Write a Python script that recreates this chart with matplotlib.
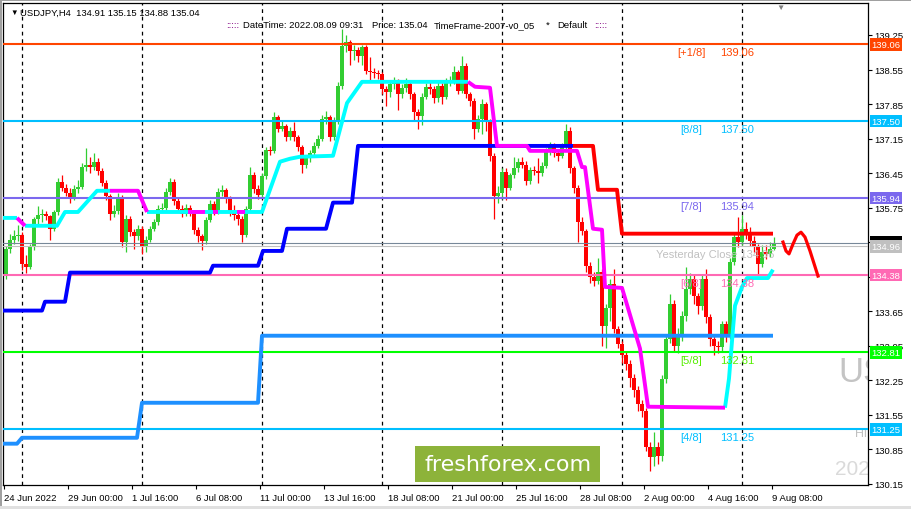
import numpy as np
import matplotlib.pyplot as plt
from matplotlib.patches import Rectangle
from matplotlib.transforms import blended_transform_factory

plt.rcParams['font.family'] = ['Liberation Sans', 'DejaVu Sans']

W, H = 911, 510

# USDJPY H4 bars, 24 Jun 2022 08:00 .. 9 Aug 2022 08:00 (open = previous close)
closes = [
    134.90, 135.10, 135.18, 135.20, 134.60, 134.55, 134.95, 135.52, 135.60, 135.62,
    135.58, 135.32, 135.66, 136.27, 136.15, 136.05, 135.95, 136.12, 136.17, 136.57,
    136.62, 136.58, 136.68, 136.50, 136.25, 135.98, 135.62, 135.68, 135.95, 135.05,
    135.52, 135.25, 135.17, 135.32, 134.95, 135.10, 135.32, 135.45, 135.72, 135.75,
    136.06, 136.27, 135.88, 135.72, 135.62, 135.75, 135.65, 135.30, 135.17, 135.08,
    135.50, 135.82, 135.68, 136.06, 136.10, 135.92, 135.65, 135.60, 135.52, 135.20,
    135.72, 136.40, 136.12, 136.00, 136.38, 136.92, 136.90, 137.58, 137.35, 137.40,
    137.18, 137.30, 137.18, 136.98, 136.62, 136.75, 136.85, 137.00, 137.15, 137.55,
    137.58, 137.18, 137.50, 138.22, 139.02, 139.10, 138.92, 138.95, 138.82, 139.00,
    138.52, 138.50, 138.48, 138.45, 138.15, 138.10, 138.25, 138.30, 138.05, 138.18,
    138.25, 138.05, 137.68, 137.60, 138.00, 138.20, 138.15, 137.98, 138.22, 138.00,
    138.30, 138.33, 138.50, 138.12, 138.62, 138.05, 137.92, 137.35, 137.55, 137.85,
    137.50, 136.80, 135.98, 136.05, 136.48, 136.15, 136.40, 136.55, 136.68, 136.62,
    136.28, 136.52, 136.50, 136.45, 136.60, 136.88, 137.00, 136.85, 136.80, 136.98,
    137.30, 136.55, 136.15, 135.45, 135.28, 134.57, 134.35, 134.25, 134.45, 133.35,
    133.72, 134.20, 133.28, 132.98, 132.75, 132.58, 132.30, 132.05, 131.76, 131.62,
    130.90, 130.68, 130.90, 130.72, 132.27, 133.08, 133.80, 132.95, 133.15, 133.55,
    134.10, 134.30, 133.95, 133.75, 134.30, 133.52, 133.08, 132.95, 132.92, 133.38,
    133.15, 134.65, 135.15, 135.05, 135.32, 135.22, 135.08, 134.97, 134.60, 134.85,
    134.80, 134.91, 135.04,
]
highs = [
    134.98, 135.22, 135.30, 135.40, 135.25, 134.78, 135.02, 135.56, 135.78, 135.72,
    135.68, 135.60, 135.70, 136.35, 136.40, 136.22, 136.15, 136.20, 136.30, 136.65,
    136.95, 136.78, 136.85, 136.75, 136.55, 136.30, 136.02, 135.80, 136.05, 136.00,
    135.60, 135.58, 135.32, 135.40, 135.38, 135.18, 135.38, 135.52, 135.80, 135.85,
    136.15, 136.35, 136.32, 135.95, 135.80, 135.82, 135.80, 135.70, 135.35, 135.22,
    135.55, 135.90, 135.88, 136.15, 136.20, 136.15, 135.98, 135.80, 135.68, 135.58,
    135.78, 136.58, 136.48, 136.20, 136.45, 136.98, 137.00, 137.68, 137.62, 137.50,
    137.45, 137.38, 137.48, 137.22, 137.02, 136.82, 136.92, 137.08, 137.22, 137.62,
    137.70, 137.62, 137.58, 138.30, 139.37, 139.25, 139.15, 139.05, 139.00, 139.05,
    139.05, 138.80, 138.58, 138.55, 138.50, 138.22, 138.32, 138.40, 138.35, 138.25,
    138.38, 138.30, 138.10, 137.75, 138.08, 138.28, 138.30, 138.22, 138.30, 138.28,
    138.38, 138.42, 138.62, 138.55, 138.82, 138.68, 138.10, 137.98, 137.62, 137.95,
    137.90, 137.55, 136.85, 136.18, 136.55, 136.55, 136.45, 136.78, 136.75, 136.78,
    136.70, 136.58, 136.60, 136.75, 136.68, 136.95, 137.08, 137.05, 136.92, 137.05,
    137.45, 137.38, 136.60, 136.20, 135.55, 135.32, 134.65, 134.45, 134.72, 134.50,
    133.80, 134.30, 134.50, 133.35, 133.05, 132.82, 132.65, 132.38, 132.12, 131.85,
    131.68, 131.00, 131.20, 131.00, 132.35, 133.15, 134.00, 133.88, 133.30, 133.65,
    134.55, 134.42, 134.38, 134.02, 134.40, 134.50, 133.60, 133.15, 133.05, 133.45,
    133.45, 134.72, 135.22, 135.55, 135.60, 135.45, 135.35, 135.18, 135.02, 135.00,
    135.00, 135.05, 135.15,
]
lows = [
    134.30, 134.82, 135.02, 135.08, 134.48, 134.42, 134.50, 134.88, 135.40, 135.45,
    135.50, 135.10, 135.28, 135.60, 136.08, 135.98, 135.85, 135.90, 136.05, 136.12,
    136.50, 136.45, 136.52, 136.40, 136.18, 135.90, 135.50, 135.55, 135.62, 134.95,
    134.85, 135.18, 134.90, 135.10, 134.80, 134.85, 135.05, 135.28, 135.40, 135.65,
    135.70, 136.00, 135.80, 135.65, 135.55, 135.58, 135.58, 135.22, 135.05, 134.88,
    135.02, 135.45, 135.60, 135.62, 135.98, 135.85, 135.58, 135.50, 135.40, 135.05,
    135.15, 135.68, 136.05, 135.92, 135.95, 136.32, 136.82, 136.85, 137.28, 137.30,
    137.10, 137.12, 137.10, 136.90, 136.45, 136.55, 136.68, 136.80, 136.95, 137.10,
    137.45, 137.10, 137.12, 137.45, 138.15, 138.90, 138.65, 138.75, 138.70, 138.65,
    138.45, 138.30, 138.38, 138.35, 138.05, 137.80, 138.00, 138.15, 137.72, 137.98,
    138.10, 137.95, 137.50, 137.35, 137.42, 137.95, 138.05, 137.88, 137.90, 137.85,
    137.95, 138.22, 138.25, 138.05, 138.08, 137.98, 137.80, 137.15, 137.28, 137.25,
    137.30, 136.70, 135.52, 135.85, 135.92, 135.90, 136.10, 136.35, 136.48, 136.55,
    136.20, 136.22, 136.40, 136.25, 136.38, 136.55, 136.82, 136.78, 136.70, 136.75,
    136.92, 136.45, 136.05, 135.05, 135.20, 134.45, 134.22, 134.15, 134.20, 132.95,
    132.90, 133.45, 133.20, 132.90, 132.60, 132.45, 132.10, 131.90, 131.62, 131.50,
    130.82, 130.40, 130.50, 130.55, 130.60, 132.20, 133.00, 132.85, 132.80, 133.05,
    133.45, 134.00, 133.80, 133.60, 133.68, 133.40, 132.95, 132.75, 132.80, 132.82,
    133.02, 133.08, 134.58, 134.95, 135.00, 135.12, 134.98, 134.85, 134.40, 134.55,
    134.70, 134.75, 134.88,
]
opens = [134.40] + closes[:-1]

date_pos = [0, 16, 32, 48, 64, 80, 96, 112, 128, 144, 160, 176, 192]
date_labels = ['24 Jun 2022', '29 Jun 00:00', '1 Jul 16:00', '6 Jul 08:00', '11 Jul 00:00',
               '13 Jul 16:00', '18 Jul 08:00', '21 Jul 00:00', '25 Jul 16:00', '28 Jul 08:00',
               '2 Aug 00:00', '4 Aug 16:00', '9 Aug 08:00']
week_starts = [4, 34, 64, 94, 124, 154, 184]
price_ticks = [139.25, 138.55, 137.85, 137.15, 136.45, 135.75, 135.05, 134.35,
               133.65, 132.95, 132.25, 131.55, 130.85, 130.15]
hidden_ticks = [135.05, 134.35]  # covered by price boxes on the scale

# Murrey math levels
levels = [139.06, 137.50, 135.94, 134.38, 132.81, 131.25]
level_names = ['[+1/8]', '[8/8]', '[7/8]', '[6/8]', '[5/8]', '[4/8]']
level_colors = ['#FF4500', '#00BFFF', '#7B68EE', '#FF69B4', '#00FF00', '#00BFFF']
level_text_colors = ['#FF4500', '#00BFFF', '#7B68EE', '#FF69B4', '#55EE00', '#00BFFF']
yesterday_close = 134.96
last_price = 135.04

# step indicators (bar index, price)
cyan_x = [-0.75, 2.75, np.nan, 4.75, 12.75, 14.75, 18, 22.75, 26, np.nan,
          35.25, 64, 68.5, 71, 73.5, 81.75, 85.25, 89, 115.5, np.nan,
          179.75, 180.75, 181.75, 182.25, 184, 185.25, 190.5, 191.75]
cyan_y = [135.54, 135.54, np.nan, 135.38, 135.38, 135.66, 135.66, 136.09, 136.09, np.nan,
          135.66, 135.66, 136.68, 136.74, 136.78, 136.80, 137.87, 138.30, 138.30, np.nan,
          131.69, 132.28, 133.29, 133.76, 134.14, 134.32, 134.32, 134.49]
magenta_x = [2.75, 4.75, np.nan, 26, 33, 35.25, np.nan, 45.5, 49.75, np.nan, 51.75, 53, np.nan,
             57.75, 59.75, np.nan, 115.5, 117.25, 121, 122.75, 130.25, 131, 142.75, 144,
             144.75, 146.75, 149, 149.75, 154, 158.5, 160.5, 179.75]
magenta_y = [135.54, 135.38, np.nan, 136.09, 136.09, 135.66, np.nan, 135.66, 135.66, np.nan,
             135.66, 135.66, np.nan, 135.66, 135.66, np.nan, 138.30, 138.20, 138.18, 137.00,
             137.00, 136.90, 136.90, 136.57, 136.57, 135.32, 135.30, 134.14, 134.12, 132.89,
             131.71, 131.69]
blue_x = [-0.75, 9, 9.75, 14.75, 16, 51, 51.75, 63, 64.25, 69, 70.25, 80, 81.75, 86.5, 88, 141.75]
blue_y = [133.66, 133.66, 133.84, 133.84, 134.43, 134.43, 134.57, 134.57, 134.87, 134.87,
          135.32, 135.32, 135.85, 135.85, 137.00, 137.00]
red_x = [141.75, 146.75, 148, 152.75, 154, 191.75]
red_y = [137.00, 137.00, 136.11, 136.11, 135.22, 135.22]
dodger_x = [-0.75, 2.75, 4, 32.75, 34, 63, 64, 191.75]
dodger_y = [130.96, 130.96, 131.08, 131.08, 131.79, 131.79, 133.15, 133.15]
forecast_x = [194.25, 195, 195.75, 196.75, 197.75, 198.75, 199.75, 201, 203]
forecast_y = [135.05, 134.87, 134.81, 135.01, 135.19, 135.25, 135.15, 134.87, 134.36]


def fx(x):
    return x / W


def fy(y):
    return 1 - y / H


fig = plt.figure(figsize=(W / 100, H / 100), dpi=100)
fig.patch.set_facecolor('white')
ax = fig.add_axes([3 / W, 24 / H, 865 / W, 482 / H])
ax.set_xlim(-0.75, 215.5)
ax.set_ylim(130.122, 139.899)
ax.set_facecolor('white')
for s in ax.spines.values():
    s.set_color('black')
    s.set_linewidth(0.9)

# week separators
for w in week_starts:
    ax.axvline(w, color='black', lw=0.9, ls=(0, (3, 3)), zorder=1)

# candles
for i in range(len(closes)):
    o, c = opens[i], closes[i]
    col = '#32CD32' if c >= o else '#FF0000'
    ax.vlines(i, lows[i], highs[i], color=col, lw=0.9, zorder=2)
    ax.bar(i, max(abs(c - o), 0.02), bottom=min(o, c), width=0.8, color=col,
           lw=0, zorder=2)

# horizontal levels
for lv, name, lc, tc in zip(levels, level_names, level_colors, level_text_colors):
    ax.axhline(lv, color=lc, lw=1.5, zorder=3)
    ax.annotate(name, (168.5 if name != '[+1/8]' else 167.75, lv), xytext=(0, -2),
                textcoords='offset points', va='top', ha='left', fontsize=8, color=tc, zorder=6)
    ax.annotate(f'{lv:.2f}', (178.5, lv), xytext=(0, -2), textcoords='offset points',
                va='top', ha='left', fontsize=8, color=tc, zorder=6)
ax.axhline(last_price, color='#778899', lw=0.8, zorder=3)
ax.axhline(yesterday_close, color='#C0C0C0', lw=0.8, zorder=3)
ax.annotate(f'Yesterday Close {yesterday_close:.2f}', (162.5, yesterday_close), xytext=(0, -2),
            textcoords='offset points', va='top', ha='left', fontsize=8, color='#C0C0C0', zorder=6)

# step indicators
ax.plot(dodger_x, dodger_y, color='#1E90FF', lw=2.8, zorder=4, solid_capstyle='butt')
ax.plot(blue_x, blue_y, color='#0000FF', lw=2.8, zorder=4, solid_capstyle='butt')
ax.plot(red_x, red_y, color='#FF0000', lw=2.8, zorder=4, solid_capstyle='butt')
ax.plot(cyan_x, cyan_y, color='#00FFFF', lw=2.8, zorder=4, solid_capstyle='butt')
ax.plot(magenta_x, magenta_y, color='#FF00FF', lw=2.8, zorder=4, solid_capstyle='butt')
ax.plot(forecast_x, forecast_y, color='#FF0000', lw=2.3, zorder=4)

# background watermark texts, cut by the price scale as in the terminal
ax.text((838 - 3) / 865, (486 - 372) / 482, 'US', transform=ax.transAxes,
        fontsize=25, color='#C4C4C4', va='center', ha='left', clip_on=True, zorder=1)
ax.text((855 - 3) / 865, (486 - 434) / 482, 'Hi', transform=ax.transAxes,
        fontsize=9, color='#C0C0C0', va='center', ha='left', clip_on=True, zorder=1)
ax.text((835 - 3) / 865, (486 - 470) / 482, '2022', transform=ax.transAxes,
        fontsize=15, color='#DADADA', va='center', ha='left', clip_on=True, zorder=1)

# axes ticks
ax.yaxis.tick_right()
ax.set_yticks(price_ticks)
ax.set_yticklabels(['' if p in hidden_ticks else f'{p:.2f}' for p in price_ticks])
ax.tick_params(axis='y', direction='out', length=3, width=0.8, labelsize=6.8, pad=1.5)
ax.set_xticks([p - 0.4 for p in date_pos])
ax.set_xticklabels(date_labels, ha='left')
ax.tick_params(axis='x', direction='out', length=3, width=0.8, labelsize=6.8, pad=2.5)

# price boxes on the scale
trans = blended_transform_factory(ax.transAxes, ax.transData)


def price_box(price, fc, tc='white'):
    ax.text(1.0043, price, f'{price:.2f}', transform=trans, ha='left', va='center',
            fontsize=6.8, color=tc, clip_on=False, zorder=10,
            bbox=dict(boxstyle='square,pad=0.18', fc=fc, ec='none'))


price_box(last_price, 'black')
price_box(yesterday_close, '#C0C0C0')
for lv, lc in zip(levels, level_colors):
    price_box(lv, lc)

# header
fig.text(fx(10), fy(13), '▼', fontsize=5.5, va='center', ha='left')
fig.text(fx(20), fy(13), 'USDJPY,H4  134.91 135.15 134.88 135.04', fontsize=6.8,
         va='center', ha='left')
fig.text(fx(226), fy(26), ':::::', fontsize=6.8, va='center', ha='left', color='#800080')
fig.text(fx(243), fy(26), 'DateTime: 2022.08.09 09:31', fontsize=6.8, va='center', ha='left')
fig.text(fx(372), fy(26), 'Price: 135.04', fontsize=6.8, va='center', ha='left')
fig.text(fx(434), fy(26), 'TimeFrame-2007-v0_05', fontsize=6.8, va='center', ha='left')
fig.text(fx(546), fy(25), '*', fontsize=6.8, va='center', ha='left')
fig.text(fx(557), fy(26), 'Default', fontsize=6.8, va='center', ha='left')
fig.text(fx(594), fy(26), ':::::', fontsize=6.8, va='center', ha='left', color='#800080')
fig.text(fx(780), fy(8), '▼', fontsize=6, va='center', ha='center', color='#808080')

# watermark logo
fig.patches.append(Rectangle((fx(415), fy(483)), 185 / W, 36 / H, transform=fig.transFigure,
                             fc='#8DB33A', ec='none', zorder=20))
fig.text(fx(508), fy(465), 'freshforex.com', fontsize=16, color='white', ha='center',
         va='center', family='DejaVu Sans', zorder=21)

# window frame
fig.patches.append(Rectangle((0, 0), 2 / W, 1, transform=fig.transFigure, fc='#A0A0A0',
                             ec='none', zorder=30))
fig.patches.append(Rectangle((0, fy(2)), 1, 2 / H, transform=fig.transFigure, fc='#A0A0A0',
                             ec='none', zorder=30))
fig.patches.append(Rectangle((0, 0), 1, 3 / H, transform=fig.transFigure, fc='#E0E0E0',
                             ec='none', zorder=30))

fig.savefig('out.png', dpi=100)
